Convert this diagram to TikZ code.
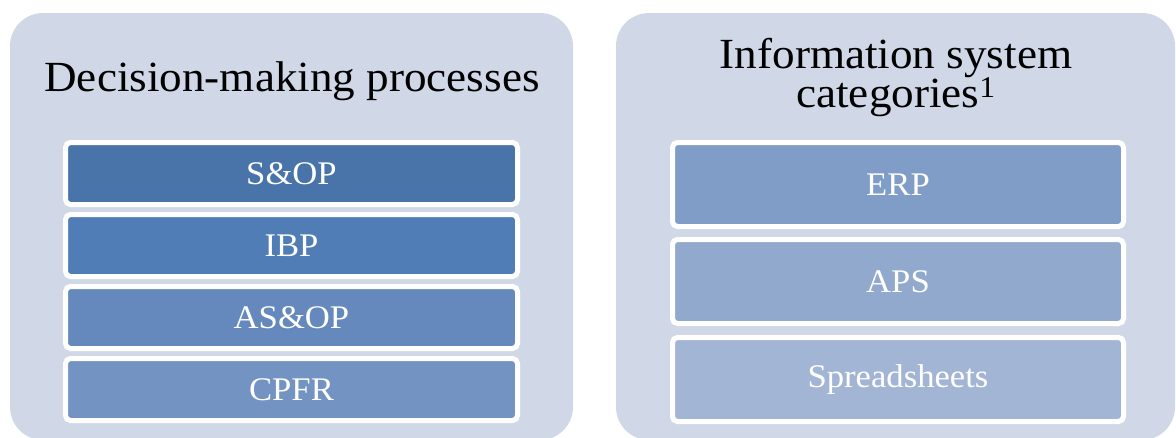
\documentclass[tikz,border=0pt]{standalone}
\usepackage{fontspec}
\setmainfont[FakeStretch=1.05]{Liberation Serif}
\definecolor{panelbg}{HTML}{D0D8E8}
\definecolor{cSOP}{HTML}{4874AA}
\definecolor{cIBP}{HTML}{507DB5}
\definecolor{cASOP}{HTML}{6589BC}
\definecolor{cCPFR}{HTML}{7393C2}
\definecolor{cERP}{HTML}{809DC7}
\definecolor{cAPS}{HTML}{90A9CD}
\definecolor{cSPR}{HTML}{A3B5D5}
\tikzset{
  panel/.style={rectangle, rounded corners=33pt, fill=panelbg, draw=none,
    inner sep=0pt, outer sep=0pt, minimum height=427pt},
  titletext/.style={font=\fontsize{43}{39}\selectfont, text=black, inner sep=0pt, align=center},
  itembox/.style={rectangle, rounded corners=5pt, draw=white, line width=5pt,
    inner sep=0pt, outer sep=0pt, text=white, font=\fontsize{33}{38}\selectfont},
  leftbox/.style={itembox, minimum width=452pt, minimum height=62pt},
  rightbox/.style={itembox, minimum width=451pt, minimum height=84pt}
}
\begin{document}
\begin{tikzpicture}[x=1pt,y=-1pt]
\useasboundingbox (0,0) rectangle (1176,437);
\clip (0,0) rectangle (1176,437);
\node[panel, minimum width=563pt] (panelL) at (291.5,226.5) {};
\node[panel, minimum width=559pt] (panelR) at (895.5,226.5) {};
\node[titletext, anchor=base] (titleL) at (292,91) {Decision-making processes};
\node[titletext, anchor=base] (titleR) at (896,107) {Information system\\categories\textsuperscript{1}};
\node[leftbox, fill=cSOP] (sop) at (291.5,173.5) {S\&OP};
\node[leftbox, fill=cIBP] (ibp) at (291.5,245.5) {IBP};
\node[leftbox, fill=cASOP] (asop) at (291.5,317.5) {AS\&OP};
\node[leftbox, fill=cCPFR] (cpfr) at (291.5,389.5) {CPFR};
\node[rightbox, fill=cERP] (erp) at (898,184.5) {ERP};
\node[rightbox, fill=cAPS] (aps) at (898,281.5) {APS};
\node[rightbox, fill=cSPR] (spr) at (898,379.5) {Spreadsheets};
\end{tikzpicture}
\end{document}
